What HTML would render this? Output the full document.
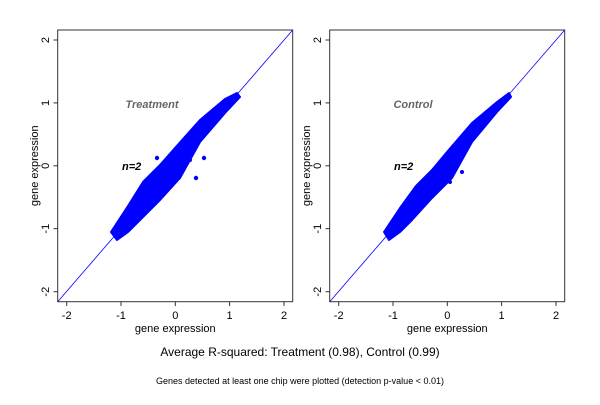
<!DOCTYPE html>
<html><head><style>
html,body{margin:0;padding:0;background:#fff;}
svg text{font-family:"Liberation Sans",sans-serif;}
</style></head><body>
<svg width="600" height="400" xmlns="http://www.w3.org/2000/svg">
<defs>
<g id="ax">
  <rect x="57.7" y="30" width="235" height="271.7" fill="none" stroke="#333" stroke-width="1"/>
  <clipPath id="cp"><rect x="57.7" y="30" width="235" height="271.7"/></clipPath>
  <line x1="57.7" y1="301.7" x2="292.7" y2="30" stroke="#0000ff" stroke-width="0.8" clip-path="url(#cp)"/>
  <g stroke="#333" stroke-width="1">
    <line x1="66.7" y1="301.7" x2="66.7" y2="306"/><line x1="121" y1="301.7" x2="121" y2="306"/>
    <line x1="175.3" y1="301.7" x2="175.3" y2="306"/><line x1="229.6" y1="301.7" x2="229.6" y2="306"/>
    <line x1="284" y1="301.7" x2="284" y2="306"/>
    <line x1="53.5" y1="40" x2="57.7" y2="40"/><line x1="53.5" y1="102.9" x2="57.7" y2="102.9"/>
    <line x1="53.5" y1="165.8" x2="57.7" y2="165.8"/><line x1="53.5" y1="228.7" x2="57.7" y2="228.7"/>
    <line x1="53.5" y1="291.7" x2="57.7" y2="291.7"/>
  </g>
  <g font-size="11" fill="#000" text-anchor="middle">
    <text x="66.7" y="319">-2</text><text x="121" y="319">-1</text><text x="175.3" y="319">0</text>
    <text x="229.6" y="319">1</text><text x="284" y="319">2</text>
    <text transform="translate(49,40) rotate(-90)">2</text>
    <text transform="translate(49,102.9) rotate(-90)">1</text>
    <text transform="translate(49,165.8) rotate(-90)">0</text>
    <text transform="translate(49,228.7) rotate(-90)">-1</text>
    <text transform="translate(49,291.7) rotate(-90)">-2</text>
    <text x="175.3" y="332">gene expression</text>
    <text transform="translate(38,165.8) rotate(-90)">gene expression</text>
  </g>
  <text x="122" y="170" font-size="11" font-weight="bold" font-style="italic">n=2</text>
</g>
</defs>
<use href="#ax"/>
<use href="#ax" x="272"/>
<g fill="#0000ff" stroke="#0000ff" stroke-width="2" stroke-linejoin="round">
 <path d="M111,232 L128,206 L143,182 L160,165 L175,148 L200,120 L225,99 L237,93 L240,97 L225,113 L200,142 L180,178 L160,200 L140,220 L128,232 L117,240Z"/>
 <path d="M384,232 L400,208 L416,186 L432,170 L447,152 L472,123 L497,102 L509,93 L511,97 L497,112 L472,142 L452,178 L432,198 L412,220 L400,232 L389,240Z"/>
</g>
<g fill="#0000ff">
 <circle cx="157" cy="158" r="2.2"/><circle cx="196" cy="178" r="2.2"/><circle cx="204" cy="158" r="2.2"/>
 <circle cx="212" cy="113" r="2.2"/><circle cx="190" cy="160" r="2"/>
 <circle cx="450" cy="182" r="2"/><circle cx="462" cy="172" r="2"/>
</g>
<text x="152" y="108" font-size="11" font-weight="bold" font-style="italic" fill="#666" text-anchor="middle">Treatment</text>
<text x="413" y="108" font-size="11" font-weight="bold" font-style="italic" fill="#666" text-anchor="middle">Control</text>
<text x="300" y="356" font-size="12" text-anchor="middle">Average R-squared: Treatment (0.98), Control (0.99)</text>
<text x="300" y="384" font-size="9" text-anchor="middle">Genes detected at least one chip were plotted (detection p-value &lt; 0.01)</text>
</svg>
</body></html>
